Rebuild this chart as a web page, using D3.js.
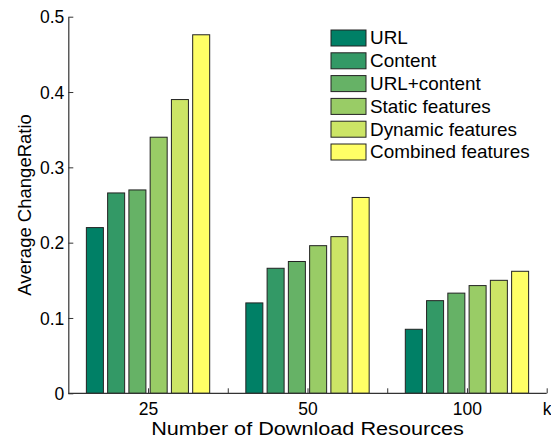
<!DOCTYPE html>
<html>
<head>
<meta charset="utf-8">
<script src="https://cdn.jsdelivr.net/npm/d3@7"></script>
<style>
  html, body { margin: 0; padding: 0; background: #fff; }
  svg text { font-family: "Liberation Sans", Arial, Helvetica, sans-serif; fill: #000; }
</style>
</head>
<body>
<svg id="chart" width="551" height="438"></svg>
<script>
// Group positions along the x axis and their tick labels
const groups = [1, 2, 3];
const xTickValues = [1, 1.5, 2, 2.5, 3, 3.5];
const xTickLabels = ["25", "", "50", "", "100", "k"];

// Feature sets (one bar per set in every group)
const series = ["URL", "Content", "URL+content", "Static features", "Dynamic features", "Combined features"];
const seriesColors = ["#008066", "#339966", "#66b266", "#99cc66", "#cce566", "#ffff66"];

// Average ChangeRatio per feature set, for 25 / 50 / 100 download resources
const valuesURL      = [0.220, 0.120, 0.085];
const valuesContent  = [0.266, 0.166, 0.123];
const valuesURLCont  = [0.270, 0.175, 0.133];
const valuesStatic   = [0.340, 0.196, 0.143];
const valuesDynamic  = [0.390, 0.208, 0.150];
const valuesCombined = [0.476, 0.260, 0.162];

const yTickValues = [0, 0.1, 0.2, 0.3, 0.4, 0.5];
const yTickLabels = ["0", "0.1", "0.2", "0.3", "0.4", "0.5"];

const allValues = [valuesURL, valuesContent, valuesURLCont, valuesStatic, valuesDynamic, valuesCombined];

const svg = d3.select("#chart");
const plot = { left: 68.3, right: 546.7, top: 16.7, bottom: 393.3 };

const x = d3.scaleLinear().domain([0.5, 3.5]).range([plot.left, plot.right]);
const y = d3.scaleLinear().domain([0, 0.5]).range([plot.bottom, plot.top]);

const axisColor = "#333";

// x-axis ticks (inward) drawn under the bars
const xAxis = d3.axisBottom(x).tickValues(xTickValues).tickSizeInner(-5).tickSizeOuter(0)
  .tickFormat((d, i) => xTickLabels[i]);
const gx = svg.append("g").attr("transform", `translate(0,${plot.bottom})`).call(xAxis);
gx.select(".domain").remove();
gx.selectAll(".tick line").attr("stroke", axisColor);
gx.selectAll(".tick text").attr("font-size", 17.5).attr("dy", 0).attr("y", 22);

// Bars
const inner = d3.scaleBand().domain(d3.range(series.length)).paddingInner(0.2).paddingOuter(0.1);
groups.forEach((g, gi) => {
  inner.range([x(g - 0.4), x(g + 0.4)]);
  svg.append("g").selectAll("rect")
    .data(series.map((s, si) => ({ si, v: allValues[si][gi] })))
    .join("rect")
    .attr("x", d => inner(d.si))
    .attr("width", inner.bandwidth())
    .attr("y", d => y(d.v))
    .attr("height", d => y(0) - y(d.v))
    .attr("fill", d => seriesColors[d.si])
    .attr("stroke", "#222")
    .attr("stroke-width", 1);
});

// x baseline
svg.append("line")
  .attr("x1", plot.left).attr("x2", plot.right)
  .attr("y1", plot.bottom).attr("y2", plot.bottom)
  .attr("stroke", axisColor).attr("stroke-width", 1.2);

// y axis with inward ticks
const yAxis = d3.axisLeft(y).tickValues(yTickValues).tickSizeInner(-5).tickSizeOuter(0)
  .tickFormat((d, i) => yTickLabels[i]);
const gy = svg.append("g").attr("transform", `translate(${plot.left},0)`).call(yAxis);
gy.select(".domain").attr("stroke", axisColor).attr("stroke-width", 1.2);
gy.selectAll(".tick line").attr("stroke", axisColor);
gy.selectAll(".tick text").attr("font-size", 17.5).attr("x", -4).attr("dy", "0.35em");

// Axis titles (slightly widened lettering)
svg.append("text")
  .attr("transform", `translate(${(plot.left + plot.right) / 2},435) scale(1.17,1)`)
  .attr("text-anchor", "middle").attr("font-size", 18.5)
  .text("Number of Download Resources");

svg.append("text")
  .attr("transform", `translate(31,${(plot.top + plot.bottom) / 2}) rotate(-90)`)
  .attr("text-anchor", "middle").attr("font-size", 18.5)
  .text("Average ChangeRatio");

// Legend
const legend = svg.append("g").attr("transform", "translate(331,30)");
const row = legend.selectAll("g").data(series).join("g")
  .attr("transform", (d, i) => `translate(0,${i * 22.8})`);
row.append("rect")
  .attr("width", 35).attr("height", 16)
  .attr("fill", (d, i) => seriesColors[i])
  .attr("stroke", "#222").attr("stroke-width", 1);
row.append("text")
  .attr("transform", "translate(39,8) scale(1.08,1)")
  .attr("dy", "0.36em")
  .attr("font-size", 17.5)
  .text(d => d);
</script>
</body>
</html>
